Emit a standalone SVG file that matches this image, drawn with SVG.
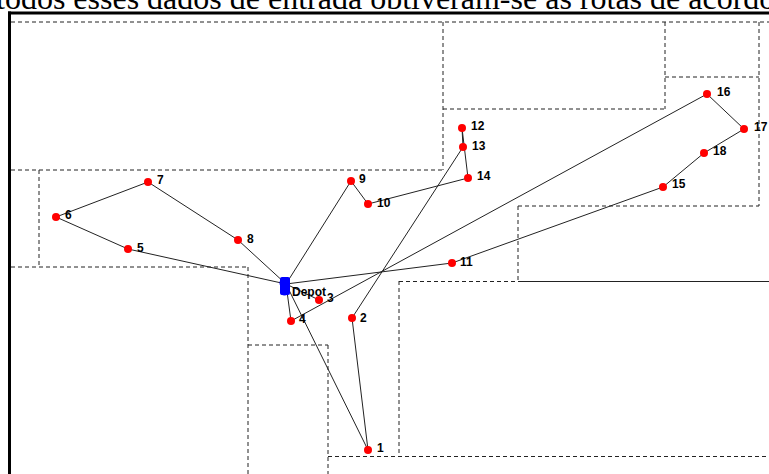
<svg xmlns="http://www.w3.org/2000/svg" width="769" height="474" viewBox="0 0 769 474">
<style>
.zone{stroke:#222;stroke-width:1;stroke-dasharray:4 3;fill:none}
.route{stroke:#222;stroke-width:1;fill:none}
.cust{fill:#f00}
.lbl{font-family:"Liberation Sans",Arial,sans-serif;font-weight:bold;font-size:12px;fill:#000}
</style>
<rect width="769" height="474" fill="#fff"/>
<text x="-4" y="9" font-family="'Liberation Serif','Times New Roman',serif" font-size="32" fill="#000">todos esses dados de entrada obtiveram-se as rotas de acordo</text>
<g id="frame">
<line x1="8" y1="13" x2="769" y2="13" stroke="#000" stroke-width="3"/>
<line x1="9.5" y1="11.5" x2="9.5" y2="474" stroke="#000" stroke-width="3"/>
</g>
<g id="zones">
<path class="zone" d="M11 22H769M665 77H759M443 109H665M11 170H443M518 206H759M11 267H248M399 281.5H518M248 345H328M328 456.5H769"/>
<path class="zone" d="M39 170V267M248 267V474M328 345V474M399 281V457M443 22V170M518 206V281M665 22V109M759 22V206"/>
<line x1="518" y1="281.5" x2="769" y2="281.5" stroke="#222" stroke-width="1"/>
</g>
<g id="connectors">
<polyline class="route" points="286,284 238,240 148,182 56,217 128,249 286,284"/>
<polyline class="route" points="286,284 351,181 368,204 468,178 462,128 463,147 352,318 368,450 286,284"/>
<polyline class="route" points="286,284 452,263 663,187 704,153 744,129 707,94 291,321 286,284"/>
<line class="route" x1="286" y1="284" x2="319" y2="300"/>
</g>
<g id="depot">
<rect x="280" y="277" width="10" height="18" rx="2" fill="#0000ff"/>
<circle cx="283.5" cy="283" r="4" fill="#0000ff"/>
<circle cx="284.5" cy="291" r="4.5" fill="#0000ff"/>
<text class="lbl" x="292" y="296">Depot</text>
</g>
<g id="n1"><circle class="cust" cx="368" cy="450" r="4"/><text class="lbl" x="377" y="452">1</text></g>
<g id="n2"><circle class="cust" cx="352" cy="318" r="4"/><text class="lbl" x="360" y="322">2</text></g>
<g id="n3"><circle class="cust" cx="319" cy="300" r="4"/><text class="lbl" x="327" y="302">3</text></g>
<g id="n4"><circle class="cust" cx="291" cy="321" r="4"/><text class="lbl" x="299" y="323">4</text></g>
<g id="n5"><circle class="cust" cx="128" cy="249" r="4"/><text class="lbl" x="137" y="252">5</text></g>
<g id="n6"><circle class="cust" cx="56" cy="217" r="4"/><text class="lbl" x="65" y="219">6</text></g>
<g id="n7"><circle class="cust" cx="148" cy="182" r="4"/><text class="lbl" x="157" y="184">7</text></g>
<g id="n8"><circle class="cust" cx="238" cy="240" r="4"/><text class="lbl" x="247" y="243">8</text></g>
<g id="n9"><circle class="cust" cx="351" cy="181" r="4"/><text class="lbl" x="359" y="183">9</text></g>
<g id="n10"><circle class="cust" cx="368" cy="204" r="4"/><text class="lbl" x="377" y="207">10</text></g>
<g id="n11"><circle class="cust" cx="452" cy="263" r="4"/><text class="lbl" x="460" y="266">11</text></g>
<g id="n12"><circle class="cust" cx="462" cy="128" r="4"/><text class="lbl" x="471" y="130">12</text></g>
<g id="n13"><circle class="cust" cx="463" cy="147" r="4"/><text class="lbl" x="472" y="150">13</text></g>
<g id="n14"><circle class="cust" cx="468" cy="178" r="4"/><text class="lbl" x="477" y="180">14</text></g>
<g id="n15"><circle class="cust" cx="663" cy="187" r="4"/><text class="lbl" x="672" y="188">15</text></g>
<g id="n16"><circle class="cust" cx="707" cy="94" r="4"/><text class="lbl" x="717" y="96">16</text></g>
<g id="n17"><circle class="cust" cx="744" cy="129" r="4"/><text class="lbl" x="754" y="131">17</text></g>
<g id="n18"><circle class="cust" cx="704" cy="153" r="4"/><text class="lbl" x="713" y="155">18</text></g>
</svg>
